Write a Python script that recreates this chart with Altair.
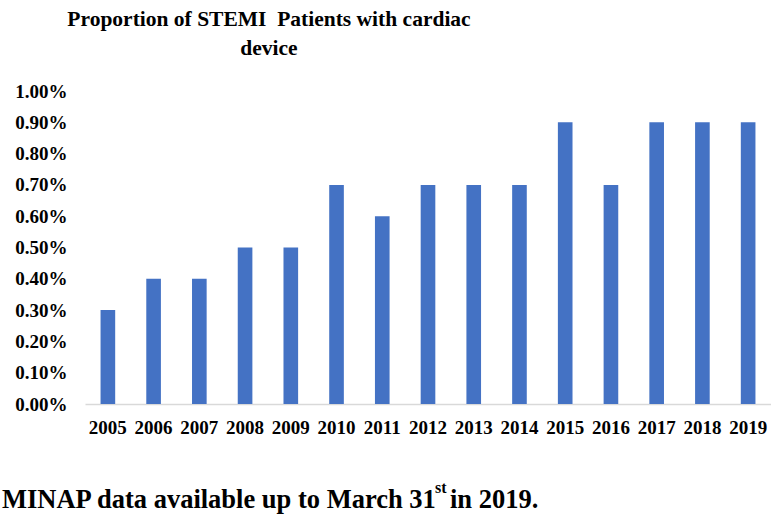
import altair as alt
import pandas as pd

# Share of STEMI patients with a cardiac device, by year
years = ["2005", "2006", "2007", "2008", "2009", "2010", "2011", "2012",
         "2013", "2014", "2015", "2016", "2017", "2018", "2019"]
shares = [0.003, 0.004, 0.004, 0.005, 0.005, 0.007, 0.006, 0.007,
          0.007, 0.007, 0.009, 0.007, 0.009, 0.009, 0.009]
y_ticks = [i / 1000 for i in range(0, 11)]

# non-breaking spaces keep the spacing that SVG would otherwise collapse
title_lines = ["Proportion of STEMI\u00a0 Patients with cardiac", "device"]
note_main = "MINAP data available up to March 31"
note_sup = "st"
note_tail = "\u00a0in 2019."

FONT = "Liberation Serif"
BLUE = "#4472C4"

df = pd.DataFrame({"year": years, "share": shares})

bars = alt.Chart(df).mark_bar(color=BLUE).encode(
    x=alt.X(
        "year:N",
        sort=years,
        title=None,
        scale=alt.Scale(paddingInner=0.68, paddingOuter=0.34),
        axis=alt.Axis(
            labelAngle=0,
            labelFont=FONT,
            labelFontSize=19,
            labelFontWeight="bold",
            labelColor="black",
            labelPadding=14,
            ticks=False,
            domainColor="#D9D9D9",
            domainWidth=1.5,
        ),
    ),
    y=alt.Y(
        "share:Q",
        title=None,
        scale=alt.Scale(domain=[0, 0.01], nice=False),
        axis=alt.Axis(
            values=y_ticks,
            format=".2%",
            labelFont=FONT,
            labelFontSize=19,
            labelFontWeight="bold",
            labelColor="black",
            labelPadding=18,
            grid=False,
            domain=False,
            ticks=False,
        ),
    ),
)

one = alt.Data(values=[{}])


def label(text, x, y, size, align="left"):
    return alt.Chart(one).mark_text(
        font=FONT, fontWeight="bold", fontSize=size, color="black",
        align=align, baseline="alphabetic",
    ).encode(x=alt.value(x), y=alt.value(y), text=alt.value(text))


title1 = label(title_lines[0], 184, -65, 21.5, align="center")
title2 = label(title_lines[1], 184, -36, 21.5, align="center")
foot1 = label(note_main, -83, 417, 26.5)
foot2 = label(note_sup, 350, 402, 16)
foot3 = label(note_tail, 365, 417, 26.5)

chart = alt.layer(bars, title1, title2, foot1, foot2, foot3).properties(
    width=686,
    height=313,
    autosize=alt.AutoSizeParams(type="none"),
    padding={"left": 85, "top": 91, "right": 0, "bottom": 112},
).configure_view(stroke=None)

chart.save("out.html", embed_options={"renderer": "svg", "actions": False})
